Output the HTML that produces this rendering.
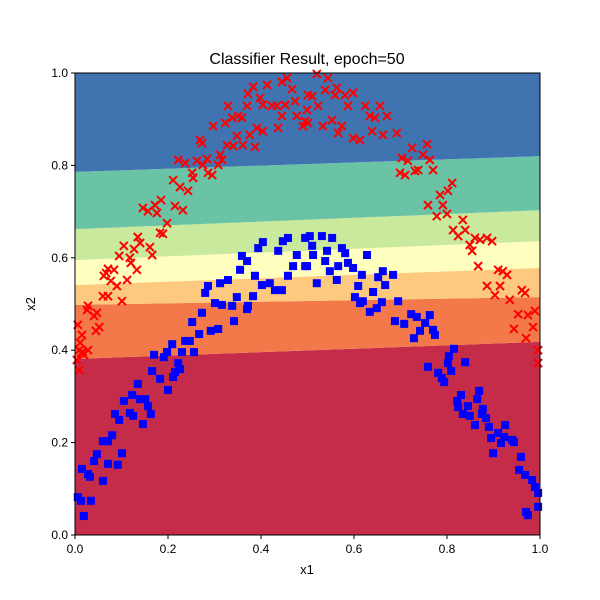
<!DOCTYPE html>
<html><head><meta charset="utf-8"><style>
html,body{margin:0;padding:0;background:#fff;}
svg{display:block;font-family:"Liberation Sans","DejaVu Sans",sans-serif;}
</style></head><body>
<svg id="chart" width="600" height="600" viewBox="0 0 600 600">
<rect width="600" height="600" fill="#fff"/>
<g id="bands"></g>
<g id="pts"></g>
<rect x="75" y="73" width="465" height="462" fill="none" stroke="#000" stroke-width="1"/>
<g id="axes"></g>
<text x="307" y="64" text-anchor="middle" font-size="16">Classifier Result, epoch=50</text>
<text x="307" y="574" text-anchor="middle" font-size="13">x1</text>
<text x="35" y="304" text-anchor="middle" font-size="13" transform="rotate(-90 35 304)">x2</text>
</svg>
<script>
const xTicks=[0,0.2,0.4,0.6,0.8,1.0];
const yTicks=[0,0.2,0.4,0.6,0.8,1.0];
const tickLabels=["0.0","0.2","0.4","0.6","0.8","1.0"];
// decision boundary lines: value at x=0 and x=1 (bottom to top)
const boundLeft=[0.381,0.498,0.541,0.595,0.662,0.786];
const boundRight=[0.418,0.515,0.578,0.636,0.703,0.820];
const bandColors=["#c42c4a","#f4794a","#fdc97e","#feffbe","#c9e99c","#6bc3a5","#4074b0"];
const redX=[.009,.009,.004,.017,.028,.006,.015,.011,.013,.019,.026,.047,.041,.052,.045,.028,.060,.071,.101,.077,.090,.112,.071,.084,.067,.062,.133,.095,.118,.120,.105,.127,.161,.166,.135,.140,.183,.189,.198,.146,.157,.172,.185,.176,.215,.232,.211,.226,.243,.252,.254,.286,.295,.222,.237,.262,.284,.275,.308,.312,.316,.269,.273,.327,.340,.361,.387,.348,.376,.297,.323,.338,.359,.351,.391,.404,.437,.445,.477,.495,.490,.329,.370,.372,.383,.413,.398,.404,.424,.434,.452,.473,.456,.445,.467,.501,.520,.544,.563,.538,.559,.581,.598,.510,.523,.499,.587,.624,.656,.634,.645,.671,.553,.501,.533,.574,.566,.639,.662,.692,.598,.613,.725,.757,.748,.703,.716,.763,.738,.699,.710,.731,.770,.811,.802,.785,.759,.791,.778,.800,.834,.813,.839,.824,.860,.871,.886,.897,.849,.854,.867,.910,.920,.929,.886,.914,.903,.935,.961,.968,.953,.974,.989,.944,.985,.970,.996,.996];
const redY=[.400,.357,.379,.396,.400,.455,.433,.416,.394,.390,.487,.481,.474,.450,.442,.496,.517,.517,.506,.550,.539,.552,.576,.574,.567,.561,.574,.604,.600,.589,.626,.619,.623,.606,.645,.632,.654,.652,.675,.708,.701,.714,.725,.697,.712,.703,.768,.753,.745,.784,.773,.784,.779,.812,.805,.810,.814,.801,.801,.823,.812,.855,.848,.844,.842,.844,.840,.864,.866,.885,.892,.903,.903,.907,.881,.874,.881,.907,.907,.896,.885,.929,.929,.955,.970,.974,.946,.931,.929,.929,.931,.939,.989,.981,.965,.952,.998,.989,.968,.963,.952,.952,.957,.950,.929,.920,.929,.929,.929,.907,.903,.907,.898,.892,.885,.885,.870,.874,.866,.870,.859,.855,.838,.846,.823,.816,.810,.812,.790,.784,.779,.788,.790,.762,.745,.736,.714,.714,.690,.695,.682,.660,.660,.647,.643,.639,.643,.636,.628,.615,.582,.574,.571,.563,.539,.539,.519,.509,.530,.524,.478,.476,.485,.446,.450,.426,.400,.372];
const blueX=[.404,.394,.458,.495,.447,.437,.477,.359,.370,.469,.495,.458,.355,.387,.402,.419,.445,.430,.329,.312,.286,.280,.348,.383,.301,.338,.372,.505,.531,.553,.510,.512,.542,.574,.581,.628,.538,.499,.566,.587,.598,.548,.617,.662,.684,.652,.520,.563,.609,.667,.602,.641,.619,.660,.695,.316,.370,.273,.252,.342,.292,.308,.267,.209,.237,.247,.198,.230,.256,.170,.191,.222,.226,.215,.211,.166,.183,.135,.200,.123,.105,.140,.151,.157,.163,.086,.118,.125,.095,.146,.080,.060,.071,.047,.041,.101,.071,.092,.015,.028,.032,.060,.006,.013,.034,.019,.613,.634,.649,.708,.688,.723,.735,.763,.753,.742,.729,.770,.774,.815,.804,.802,.839,.759,.781,.809,.789,.794,.830,.869,.822,.824,.845,.865,.834,.849,.877,.875,.884,.860,.890,.925,.910,.895,.923,.916,.940,.944,.899,.959,.955,.968,.983,.989,.996,.970,.974,.996];
const blueY=[.634,.621,.643,.643,.636,.615,.606,.604,.593,.582,.582,.561,.574,.561,.541,.545,.530,.530,.552,.545,.539,.524,.515,.517,.502,.496,.496,.647,.647,.643,.626,.606,.615,.621,.610,.606,.593,.582,.582,.589,.578,.571,.563,.571,.563,.558,.545,.552,.539,.541,.515,.526,.506,.504,.506,.498,.489,.481,.461,.463,.442,.446,.435,.413,.420,.420,.396,.396,.396,.390,.385,.372,.359,.353,.342,.355,.338,.327,.314,.303,.290,.294,.294,.279,.262,.262,.264,.258,.249,.240,.216,.203,.203,.175,.160,.177,.154,.152,.143,.132,.126,.117,.082,.074,.074,.041,.502,.483,.491,.457,.463,.478,.472,.476,.459,.442,.426,.444,.433,.403,.387,.372,.374,.364,.351,.355,.340,.331,.303,.312,.290,.277,.279,.294,.262,.258,.273,.262,.253,.238,.234,.238,.221,.210,.212,.199,.206,.201,.177,.169,.141,.130,.119,.104,.091,.050,.043,.061];

const X0=75,X1=540,Y0=535,Y1=73;
const sx=v=>X0+v*(X1-X0);
const sy=v=>Y0-v*(Y0-Y1);
const NS="http://www.w3.org/2000/svg";
function mk(tag,attrs,parent){const e=document.createElementNS(NS,tag);for(const k in attrs)e.setAttribute(k,attrs[k]);parent.appendChild(e);return e;}

const bands=document.getElementById('bands');
const lowL=[0].concat(boundLeft), lowR=[0].concat(boundRight);
const hiL=boundLeft.concat([1]), hiR=boundRight.concat([1]);
for(let i=0;i<bandColors.length;i++){
  const p=mk('polygon',{points:`${sx(0)},${sy(lowL[i])} ${sx(1)},${sy(lowR[i])} ${sx(1)},${sy(hiR[i])} ${sx(0)},${sy(hiL[i])}`,fill:bandColors[i]},bands);
  
  
}
const pts=document.getElementById('pts');
for(let i=0;i<blueX.length;i++){
  const r=mk('rect',{x:sx(blueX[i])-4,y:sy(blueY[i])-4,width:8,height:8,fill:'#0000ff'},pts);
  
  
}
for(let i=0;i<redX.length;i++){
  const cx=sx(redX[i]),cy=sy(redY[i]),d=4;
  const p=mk('path',{d:`M${cx-d},${cy-d}L${cx+d},${cy+d}M${cx-d},${cy+d}L${cx+d},${cy-d}`,stroke:'#ff0000','stroke-width':2,fill:'none'},pts);
  
  
}
const axes=document.getElementById('axes');
xTicks.forEach((t,i)=>{
  const l=mk('line',{x1:sx(t),x2:sx(t),y1:Y0,y2:Y0+4,stroke:'#000'},axes);
  
  
  const tx=mk('text',{x:sx(t),y:Y0+18,'text-anchor':'middle','font-size':12},axes);
  tx.textContent=tickLabels[i];
  
  
});
yTicks.forEach((t,i)=>{
  const l=mk('line',{x1:X0-4,x2:X0,y1:sy(t),y2:sy(t),stroke:'#000'},axes);
  
  
  const tx=mk('text',{x:X0-7,y:sy(t)+4,'text-anchor':'end','font-size':12},axes);
  tx.textContent=tickLabels[i];
  
  
});
</script>
</body></html>
